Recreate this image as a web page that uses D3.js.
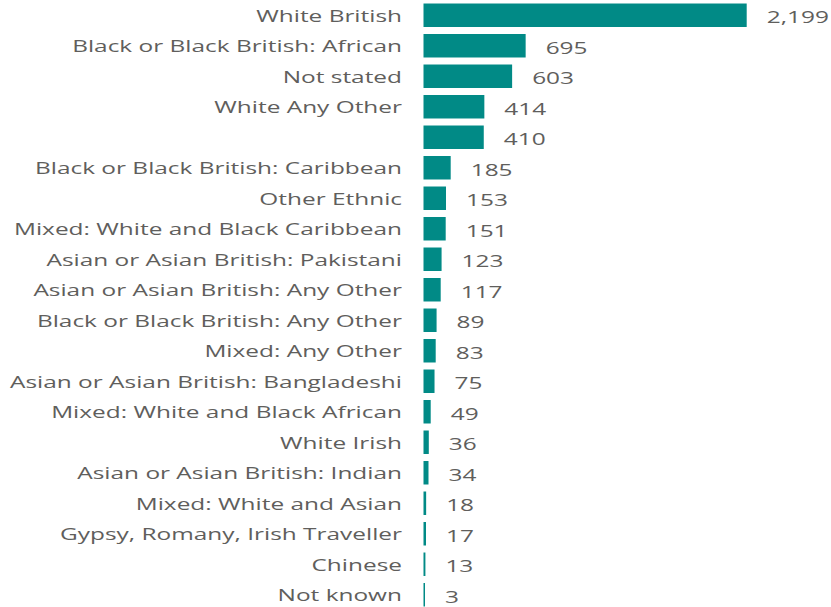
<!DOCTYPE html>
<html><head><meta charset="utf-8">
<script src="https://cdn.jsdelivr.net/npm/d3@7"></script>
<style>body{margin:0;background:#fff;} text{font-family:"Open Sans",sans-serif;}</style>
</head><body><svg id="c" width="831" height="607"></svg>
<script>
const categories = ["White British","Black or Black British: African","Not stated","White Any Other","","Black or Black British: Caribbean","Other Ethnic","Mixed: White and Black Caribbean","Asian or Asian British: Pakistani","Asian or Asian British: Any Other","Black or Black British: Any Other","Mixed: Any Other","Asian or Asian British: Bangladeshi","Mixed: White and Black African","White Irish","Asian or Asian British: Indian","Mixed: White and Asian","Gypsy, Romany, Irish Traveller","Chinese","Not known"];
const values = [2199,695,603,414,410,185,153,151,123,117,89,83,75,49,36,34,18,17,13,3];

const svg = d3.select("#c");
const x0 = 423.5, x1 = 746.7;
const x = d3.scaleLinear().domain([0, 2199]).range([x0, x1]);
const y = d3.scaleBand().domain(d3.range(categories.length)).range([0, 30.5*20]).paddingInner(0.23).paddingOuter(0.115);
const sx = 1.48;
const fmt = d3.format(",");

svg.selectAll("rect").data(values).join("rect")
  .attr("x", x(0)).attr("y", (d,i)=>y(i)).attr("width", d=>Math.max(1.5, x(d)-x(0))).attr("height", y.bandwidth())
  .attr("fill", "#018a86");

svg.selectAll("text.cat").data(categories).join("text").attr("class","cat")
  .attr("transform", (d,i)=>`translate(402,${y(i)+y.bandwidth()/2}) scale(${sx},1)`)
  .attr("text-anchor","end").attr("dominant-baseline","central")
  .attr("font-size", 16.5).attr("fill","#605e5c").text(d=>d);

svg.selectAll("text.val").data(values).join("text").attr("class","val")
  .attr("transform", (d,i)=>`translate(${Math.max(x(d), x(0)+1.5)+20},${y(i)+y.bandwidth()/2+1.5}) scale(${sx},1)`)
  .attr("text-anchor","start").attr("dominant-baseline","central")
  .attr("font-size", 16.5).attr("fill","#605e5c").text(d=>fmt(d));
</script></body></html>
